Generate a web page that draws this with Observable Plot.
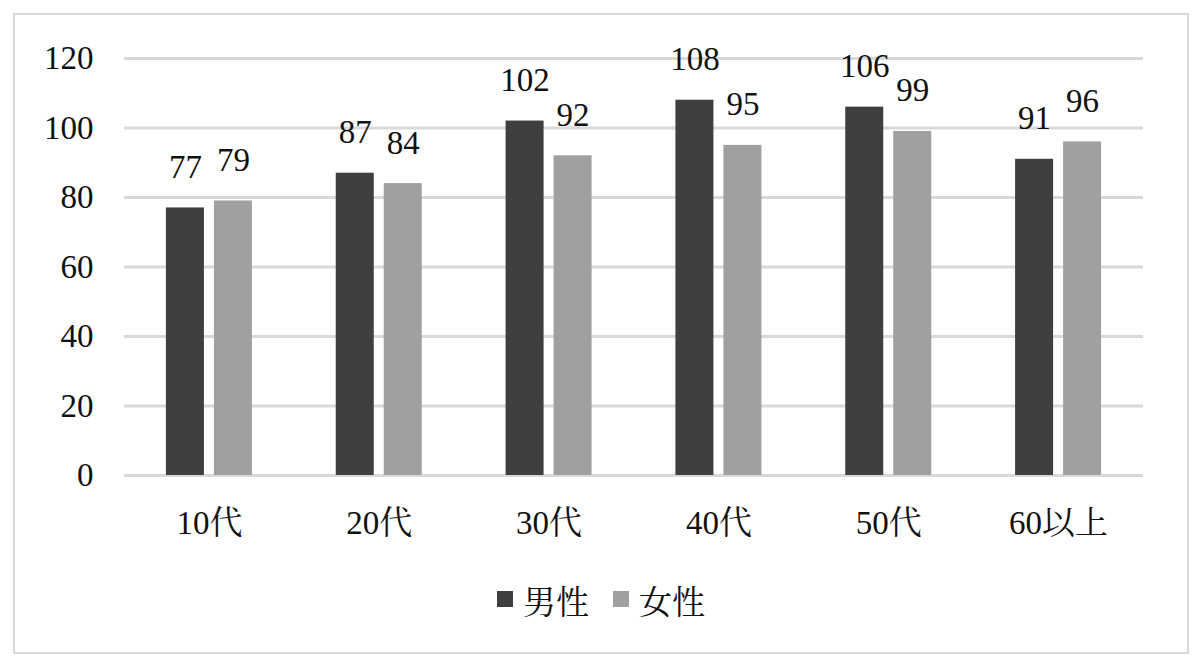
<!DOCTYPE html>
<html>
<head>
<meta charset="utf-8">
<script src="https://cdn.jsdelivr.net/npm/d3@7"></script>
<script src="https://cdn.jsdelivr.net/npm/@observablehq/plot@0.6"></script>
</head>
<body style="margin:0;padding:0;background:#fff;font-family:'Liberation Serif','Noto Serif CJK JP',serif;">
<div id="wrap" style="position:relative;width:1202px;height:662px;overflow:hidden;">
  <div id="chart"></div>
  <div id="legend" style="display:flex;justify-content:center;align-items:center;height:68px;font-family:'Liberation Serif','Noto Serif CJK JP',serif;font-size:33px;color:#111;"></div>
  <div id="frame" style="position:absolute;left:13px;top:13px;width:1176px;height:641px;box-sizing:border-box;border:2.5px solid #d9d9d9;pointer-events:none;"></div>
</div>
<script>
const categories = ["10代", "20代", "30代", "40代", "50代", "60以上"];
const seriesNames = ["男性", "女性"];
const male = [77, 87, 102, 108, 106, 91];
const female = [79, 84, 92, 95, 99, 96];
const yTicks = [0, 20, 40, 60, 80, 100, 120];
const colors = ["#3f3f3f", "#a0a0a0"];

const maleData = categories.map((c, i) => ({cat: c, value: male[i]}));
const femaleData = categories.map((c, i) => ({cat: c, value: female[i]}));

const FONT = "Liberation Serif, Noto Serif CJK JP, serif";

const chart = Plot.plot({
  width: 1202,
  height: 565,
  marginLeft: 124,
  marginRight: 59,
  marginTop: 58,
  marginBottom: 90,
  style: "font-family: 'Liberation Serif', 'Noto Serif CJK JP', serif; font-size: 33px; color: #111; background: transparent;",
  x: {domain: categories, paddingInner: 0.4936, paddingOuter: 0.2468, round: false, tickSize: 0, tickPadding: 35, label: null},
  y: {domain: [0, 120], ticks: yTicks, tickSize: 0, tickPadding: 31, label: null, tickFormat: d => String(d)},
  marks: [
    Plot.ruleY(yTicks, {stroke: "#d9d9d9", strokeWidth: 3}),
    Plot.barY(maleData, {x: "cat", y: "value", fill: colors[0], insetRight: 48}),
    Plot.barY(femaleData, {x: "cat", y: "value", fill: colors[1], insetLeft: 48}),
    Plot.text(maleData, {x: "cat", y: "value", text: d => String(d.value), dx: -24, dy: -30, lineAnchor: "bottom", fontSize: 33, fill: "#111"}),
    Plot.text(femaleData, {x: "cat", y: "value", text: d => String(d.value), dx: 24, dy: -30, lineAnchor: "bottom", fontSize: 33, fill: "#111"})
  ]
});
chart.querySelectorAll("text").forEach(el => {
  el.setAttribute("font-family", FONT);
  el.style.fontFamily = "'Liberation Serif', 'Noto Serif CJK JP', serif";
});
document.getElementById("chart").appendChild(chart);

const legend = document.getElementById("legend");
seriesNames.forEach((name, i) => {
  const item = document.createElement("span");
  item.style.cssText = "display:flex;align-items:center;" + (i > 0 ? "margin-left:24px;" : "");
  const sw = document.createElement("span");
  sw.style.cssText = "width:16px;height:16px;display:inline-block;margin-right:10px;background:" + colors[i] + ";";
  item.appendChild(sw);
  item.appendChild(document.createTextNode(name));
  legend.appendChild(item);
});
</script>
</body>
</html>
